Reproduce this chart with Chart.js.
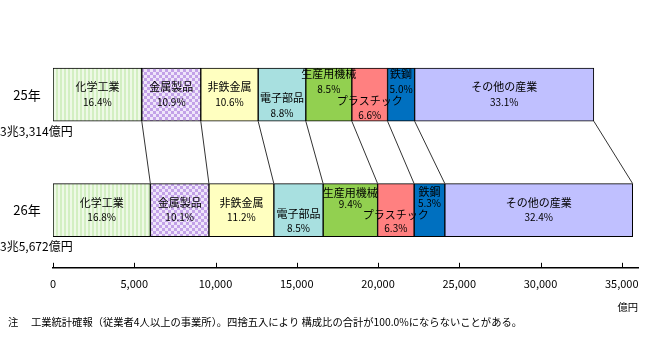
<!DOCTYPE html>
<html><head><meta charset="utf-8">
<script src="https://cdn.jsdelivr.net/npm/chart.js@4/dist/chart.umd.min.js"></script>
<style>
html,body{margin:0;padding:0;background:#fff;}
#wrap{position:relative;width:665px;height:356px;}
</style></head>
<body><div id="wrap"><canvas id="c" width="665" height="356"></canvas></div>
<script>
// ---- data ----
const years = ['25年', '26年'];
const totals = ['3兆3,314億円', '3兆5,672億円'];
const industries = ['化学工業', '金属製品', '非鉄金属', '電子部品', '生産用機械', 'プラスチック', '鉄鋼', 'その他の産業'];
const values25 = [5463, 3631, 3531, 2932, 2832, 2199, 1666, 11027];
const values26 = [5993, 3603, 3995, 3032, 3353, 2247, 1891, 11558];
const shares25 = ['16.4%', '10.9%', '10.6%', '8.8%', '8.5%', '6.6%', '5.0%', '33.1%'];
const shares26 = ['16.8%', '10.1%', '11.2%', '8.5%', '9.4%', '6.3%', '5.3%', '32.4%'];
const xTicks = [0, 5000, 10000, 15000, 20000, 25000, 30000, 35000];
const unitLabel = '億円';
const note = '注　 工業統計確報（従業者4人以上の事業所）。四捨五入により 構成比の合計が100.0%にならないことがある。';

// ---- styles ----
const FONT = '"Noto Sans CJK JP", "Noto Sans", sans-serif';
function stripePattern() {
  const c = document.createElement('canvas'); c.width = 4; c.height = 4;
  const g = c.getContext('2d');
  g.fillStyle = '#eef9e6'; g.fillRect(0, 0, 4, 4);
  g.fillStyle = '#d3efc2'; g.fillRect(0, 0, 2, 4);
  return g.createPattern(c, 'repeat');
}
function dotPattern() {
  const c = document.createElement('canvas'); c.width = 6; c.height = 6;
  const g = c.getContext('2d');
  g.fillStyle = '#efe6fa'; g.fillRect(0, 0, 6, 6);
  g.fillStyle = '#c3a2e8'; g.fillRect(0, 0, 3, 3); g.fillRect(3, 3, 3, 3);
  return g.createPattern(c, 'repeat');
}
const fills = [stripePattern(), dotPattern(), '#ffffc0', '#a8e0e0', '#92d050', '#ff8080', '#0070c0', '#c0c0ff'];
// label offsets (px from bar top) for name / share, per bar
const labelOffsets = [
  [[19,34],[19,34],[19,34],[30,45],[6,21],[33,47],[6,21],[19,34]],
  [[19,34],[19,34],[19,34],[30,45],[9,21],[31,45],[8,20],[19,34]]
];

const datasets = industries.map((name, i) => ({
  label: name,
  data: [values25[i], values26[i]],
  backgroundColor: fills[i],
  borderColor: '#000',
  borderWidth: 1,
  borderSkipped: false,
  barThickness: 53
}));

const overlay = {
  id: 'overlay',
  afterDatasetsDraw(chart) {
    const ctx = chart.ctx;
    const metas = industries.map((_, i) => chart.getDatasetMeta(i));
    ctx.save();
    // connector lines
    ctx.strokeStyle = '#333'; ctx.lineWidth = 1;
    metas.forEach(m => {
      const a = m.data[0], b = m.data[1];
      ctx.beginPath();
      ctx.moveTo(a.x, a.y + a.height / 2);
      ctx.lineTo(b.x, b.y - b.height / 2);
      ctx.stroke();
    });
    // segment labels
    ctx.fillStyle = '#000';
    ctx.textAlign = 'center'; ctx.textBaseline = 'middle';
    const shares = [shares25, shares26];
    metas.forEach((m, i) => {
      [0, 1].forEach(j => {
        const el = m.data[j];
        const cx = (el.x + el.base) / 2;
        const top = el.y - el.height / 2;
        const off = labelOffsets[j][i];
        ctx.font = '11px ' + FONT;
        ctx.fillText(industries[i], cx, top + off[0]);
        ctx.font = '10px ' + FONT;
        ctx.fillText(shares[j][i], cx, top + off[1]);
      });
    });
    // year labels and totals
    metas[0].data.forEach((el, j) => {
      ctx.font = '13px ' + FONT;
      ctx.textAlign = 'center';
      ctx.fillText(years[j], 27, el.y);
      ctx.font = '12px ' + FONT;
      ctx.textAlign = 'left';
      ctx.fillText(totals[j], 0, el.y + el.height / 2 + 10);
    });
    // upward tick marks
    const xs = chart.scales.x;
    ctx.strokeStyle = '#000'; ctx.lineWidth = 1;
    xTicks.forEach(v => {
      const px = Math.round(xs.getPixelForValue(v)) + 0.5;
      ctx.beginPath();
      ctx.moveTo(px, xs.top);
      ctx.lineTo(px, xs.top - 5);
      ctx.stroke();
    });
    // unit and note
    ctx.font = '10.3px ' + FONT;
    ctx.textAlign = 'right';
    ctx.fillText(unitLabel, 638, 307);
    ctx.textAlign = 'left';
    ctx.fillText(note, 8, 322);
    ctx.restore();
  }
};

new Chart(document.getElementById('c'), {
  type: 'bar',
  data: { labels: years, datasets },
  options: {
    indexAxis: 'y',
    responsive: false,
    animation: false,
    events: [],
    layout: { padding: { left: 53, right: 27, top: 37, bottom: 57 } },
    plugins: { legend: { display: false }, tooltip: { enabled: false } },
    scales: {
      x: {
        type: 'linear', stacked: true, min: 0, max: 36000,
        afterBuildTicks(scale) { scale.ticks = xTicks.map(v => ({ value: v })); },
        ticks: {
          color: '#000', font: { family: FONT, size: 11 }, padding: 9,
          maxRotation: 0, autoSkip: false,
          callback: v => v.toLocaleString('en-US')
        },
        grid: { display: false, drawTicks: false },
        border: { display: true, color: '#000', width: 1.5 }
      },
      y: { type: 'category', stacked: true, display: false }
    }
  },
  plugins: [overlay]
});
</script></body></html>
